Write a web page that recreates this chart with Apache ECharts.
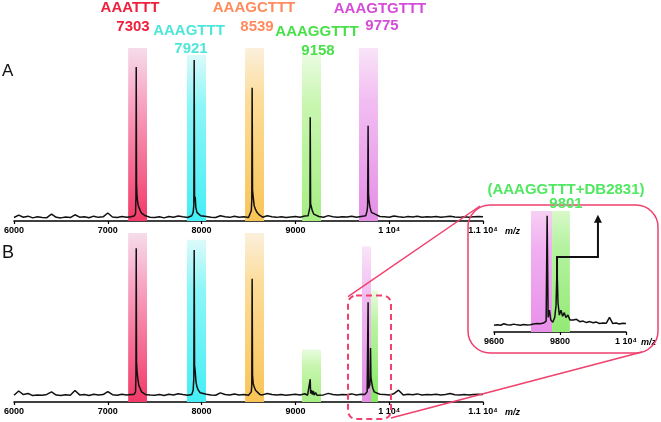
<!DOCTYPE html>
<html><head><meta charset="utf-8">
<script src="https://cdn.jsdelivr.net/npm/echarts@6/dist/echarts.min.js"></script>
<style>html,body{margin:0;padding:0;background:#fff}#c{width:661px;height:422px}</style>
</head><body><div id="c"></div>
<script>
// ---------- data ----------
const noiseStart = 6000, noiseStep = 50;
const noiseA = [2.0,3.4,2.2,2.8,1.8,2.4,2.0,1.9,4.0,2.1,
 1.8,2.3,2.0,3.6,2.2,2.5,1.9,2.8,2.1,2.4,
 4.6,2.3,2.0,2.6,2.2,2.5,2.8,2.4,3.0,2.2,
 2.0,2.4,1.8,2.6,2.2,2.9,2.4,2.0,3.2,2.5,
 2.3,2.6,2.2,2.0,3.0,2.4,2.1,2.7,2.2,2.4,
 2.0,2.6,2.8,2.2,3.0,2.4,2.1,2.5,2.0,2.3,
 2.6,2.2,2.9,2.4,2.0,2.6,2.2,3.1,2.4,2.2,
 2.5,2.3,2.8,2.2,2.6,2.4,3.5,2.2,2.6,2.4,
 2.2,2.9,2.4,2.1,2.6,2.3,2.8,2.2,2.5,2.3,
 2.6,2.2,2.4,2.8,2.3,2.1,2.5,2.2,2.4,2.6,
 2.4];
const noiseB = [4.0,6.5,4.4,5.0,3.8,4.2,4.0,4.5,6.0,4.1,
 3.8,4.3,4.0,6.8,4.2,4.5,3.9,4.6,4.1,4.4,
 6.2,4.3,4.0,4.6,4.2,4.5,4.8,4.4,5.0,4.2,
 4.0,4.4,3.8,4.6,4.2,4.9,4.4,4.0,5.6,4.5,
 4.3,4.6,4.2,4.0,5.4,4.4,4.1,4.7,4.2,4.4,
 4.0,4.6,4.8,4.2,5.0,4.4,4.1,4.5,4.0,4.3,
 4.6,4.2,4.9,4.4,4.0,4.6,4.2,5.1,4.4,4.2,
 4.5,4.3,4.8,4.2,4.6,4.4,5.2,4.2,4.6,4.4,
 4.2,4.9,7.0,4.1,4.6,4.3,4.8,4.2,4.5,4.3,
 4.6,4.2,4.4,5.0,4.3,4.1,4.5,4.2,4.4,4.6,
 4.4];
const insetStart = 9600, insetStep = 10;
const noiseInset = [5.5,6.0,5.6,6.8,6.0,5.8,6.5,5.9,5.6,6.2,
 5.8,6.0,6.6,7.0,6.8,7.4,7.6,7.8,8.0,8.2,
 9.0,9.5,10,10,10,10.5,8.5,9.0,7.8,8.6,
 7.6,8.2,7.0,7.4,7.2,12,7.0,7.4,6.6,7.2,
 7.0];

const peakA7303 = [[7285,3],[7296,4.5],[7300,14],[7303,89],[7306,22],[7310,16],[7316,12],[7324,9],[7334,8],[7346,6],[7360,4.5],[7380,3.5],[7400,3]];
const peakA7921 = [[7895,3],[7910,5],[7917,9],[7921,93],[7925,11],[7932,14],[7938,8],[7950,5],[7970,4],[7990,3]];
const peakA8539 = [[8515,3],[8530,6],[8535,12],[8539,77],[8543,18],[8550,14],[8560,9],[8572,7],[8590,5],[8615,3.5]];
const peakA9158 = [[9135,3],[9150,4],[9155,8],[9158,60],[9162,10],[9170,10],[9180,6],[9195,4],[9215,3]];
const peakA9775 = [[9750,3],[9765,6],[9770,9],[9775,55],[9779,16],[9786,11],[9795,8],[9810,5],[9830,6],[9850,4]];

const peakB7303 = [[7280,4.5],[7296,6],[7300,16],[7303,91],[7306,24],[7312,18],[7320,14],[7330,10],[7345,8],[7360,6],[7380,5],[7400,4.5]];
const peakB7921 = [[7895,4.5],[7910,7],[7917,14],[7921,90],[7925,22],[7932,18],[7940,12],[7950,9],[7965,7],[7985,5.5],[8005,4.5]];
const peakB8539 = [[8515,4.5],[8530,6],[8535,10],[8539,73],[8543,16],[8550,11],[8560,9],[8575,7],[8595,6],[8620,4.5]];
const peakB9158 = [[9130,4],[9145,5],[9150,4.5],[9158,13.5],[9162,5],[9172,7],[9180,4.5],[9192,6.5],[9200,4],[9215,5.5],[9230,4]];
const peakB9775 = [[9740,4.5],[9755,5.5],[9765,6],[9770,7],[9775,59],[9779,8],[9785,9]];
const peakB9801 = [[9792,10],[9797,14],[9801,32],[9805,15],[9810,13],[9818,10],[9826,8],[9840,6],[9855,5]];

const peakInset = [[9755,8],[9758,9],[9761,96],[9764,12],[9768,18],[9772,10],[9778,8],[9784,12],[9788,22],[9791,53],[9794,24],[9798,14],[9803,18],[9808,13],[9813,16],[9818,12],[9824,14],[9830,10]];

// bands: [from, to, top]
const bandsA = [[7217,7418,100],[7844,8047,96],[8463,8665,100],[9070,9273,96],[9678,9880,100]];
const bandsB = [[7217,7418,100],[7844,8047,96],[8463,8665,100],[9070,9273,31],[9710,9806,92],[9806,9880,66]];
const bandsInset = [[9712,9776,100],[9776,9830,100]];

const labelsTop = ['AAATTT','AAAGTTT','AAAGCTTT','AAAGGTTT','AAAGTGTTT'];
const labelsMass = ['7303','7921','8539','9158','9775'];
const insetLabel = ['(AAAGGTTT+DB2831)','9801'];
const xTickLabels = {6000:'6000',7000:'7000',8000:'8000',9000:'9000',10000:'1 10\u2074',11000:'1.1 10\u2074',9600:'9600',9800:'9800'};

// ---------- styles ----------
function grad(top, mid, bottom){
  return {type:'linear',x:0,y:0,x2:0,y2:1,colorStops:[{offset:0,color:top},{offset:0.3,color:mid},{offset:1,color:bottom}]};
}
const cRed = grad('#f6dcea','#f8a6c4','#f23a68');
const cCyan = grad('#dcfafa','#8ef6f8','#44eef6');
const cYel = grad('#fbf0dc','#fcdc98','#f9c456');
const cGrn = grad('#eafbe0','#c8f6b0','#a6ee84');
const cMag = grad('#f9e4f8','#f2bef2','#e48ee6');
const bandColA = [cRed,cCyan,cYel,cGrn,cMag];
const bandColB = [cRed,cCyan,cYel,cGrn,cMag,grad('#eafbe0','#b8f4a0','#86e862')];
const bandColInset = [grad('#f6d0f4','#f0b0f0','#e890ea'),grad('#d8f8c8','#b4f2a0','#94ea74')];
const labColors = ['#f0203c','#4ee6d8','#ff8a5c','#48e048','#d54cd8'];

function build(noise, start, step, peaks){
  let pts = noise.map((v,i)=>[start+i*step, v]);
  peaks.forEach(p=>{
    const lo=p[0][0], hi=p[p.length-1][0];
    pts = pts.filter(q=>q[0]<lo||q[0]>hi);
  });
  peaks.forEach(p=>{pts = pts.concat(p);});
  return pts.sort((a,b)=>a[0]-b[0]);
}
function areas(bands, cols){
  return bands.map((b,i)=>[{xAxis:b[0],yAxis:0,itemStyle:{color:cols[i]}},{xAxis:b[1],yAxis:b[2]}]);
}
const font = 'Liberation Sans, Arial, sans-serif';
function xAx(gi, min, max, interval, nameGap){
  return {type:'value',gridIndex:gi,min:min,max:max,interval:interval,
    axisLine:{show:true,lineStyle:{color:'#000',width:1.5}},
    axisTick:{show:true,length:3,lineStyle:{color:'#000',width:1.2}},
    splitLine:{show:false},
    axisLabel:{color:'#000',fontSize:9,fontWeight:'bold',fontFamily:font,margin:5,formatter:v=>xTickLabels[v]||String(v)},
    name:'m/z',nameLocation:'end',nameGap:nameGap,
    nameTextStyle:{color:'#000',fontSize:9,fontWeight:'bold',fontStyle:'italic',fontFamily:font,verticalAlign:'top',padding:[6,0,0,0]}};
}
function yAx(gi){return {type:'value',gridIndex:gi,min:0,max:100,show:false};}

const chart = echarts.init(document.getElementById('c'));
const lineStyle = {color:'#111',width:1.5};
chart.setOption({
  animation:false,
  grid:[{left:14,top:48,width:469,height:173},{left:14,top:233,width:469,height:169},{left:494,top:211,width:132,height:121}],
  xAxis:[xAx(0,6000,11000,1000,22),xAx(1,6000,11000,1000,22),xAx(2,9600,10000,200,8)],
  yAxis:[yAx(0),yAx(1),yAx(2)],
  visualMap:[
    {type:'piecewise',show:false,dimension:0,seriesIndex:1,pieces:[{lt:9789,color:'#111'},{gte:9789,lte:9850,color:'#2f9a4c'},{gt:9850,color:'#111'}]},
    {type:'piecewise',show:false,dimension:0,seriesIndex:2,pieces:[{lt:9776,color:'#111'},{gte:9776,lte:9832,color:'#2f9a4c'},{gt:9832,color:'#111'}]}
  ],
  series:[
    {type:'line',xAxisIndex:0,yAxisIndex:0,symbol:'none',lineStyle:lineStyle,z:3,
      data:build(noiseA,noiseStart,noiseStep,[peakA7303,peakA7921,peakA8539,peakA9158,peakA9775]),
      markArea:{silent:true,z:1,data:areas(bandsA,bandColA)}},
    {type:'line',xAxisIndex:1,yAxisIndex:1,symbol:'none',lineStyle:lineStyle,z:3,
      data:build(noiseB,noiseStart,noiseStep,[peakB7303,peakB7921,peakB8539,peakB9158,peakB9775,peakB9801]),
      markArea:{silent:true,z:1,data:areas(bandsB,bandColB)}},
    {type:'line',xAxisIndex:2,yAxisIndex:2,symbol:'none',lineStyle:lineStyle,z:3,
      data:build(noiseInset,insetStart,insetStep,[peakInset]),
      markArea:{silent:true,z:1,data:areas(bandsInset,bandColInset)}}
  ]
});

// ---------- annotations ----------
const px = (gi,pt)=>chart.convertToPixel({gridIndex:gi},pt);
const dTL = px(1,[9561,63]), dBR = px(1,[10019,-10]);
const iTL = [px(2,[9600,0])[0]-26, px(2,[9600,100])[1]-6];
const iBR = [px(2,[10000,0])[0]+32, px(2,[10000,0])[1]+21];
const aStart = px(2,[9791,44]), aMid = px(2,[9791,62]), aEnd = px(2,[9915,96]);
const pink = '#f0406e';
const txt = (x,y,s,color,size,weight)=>({type:'text',x:x,y:y,z:10,style:{text:s,fill:color,font:(weight||'bold')+' '+size+'px '+font,textAlign:'center',textVerticalAlign:'middle'}});
const labPos = [[130,8,133,26.5],[189,30.5,191,49],[254,8,257,26.5],[317,32,318,51],[380,8.5,382,26]];
const g = [];
labelsTop.forEach((s,i)=>{
  g.push(txt(labPos[i][0],labPos[i][1],s,labColors[i],15));
  g.push(txt(labPos[i][2],labPos[i][3],labelsMass[i],labColors[i],15));
});
g.push({type:'text',x:2,y:71,style:{text:'A',fill:'#111',font:'17px '+font,textVerticalAlign:'middle'}});
g.push({type:'text',x:2,y:253,style:{text:'B',fill:'#111',font:'18px '+font,textVerticalAlign:'middle'}});
g.push({type:'rect',z:5,shape:{x:dTL[0],y:dTL[1],width:dBR[0]-dTL[0],height:dBR[1]-dTL[1],r:8},style:{fill:'none',stroke:pink,lineWidth:2,lineDash:[6,4]}});
g.push({type:'rect',z:5,shape:{x:iTL[0],y:iTL[1],width:iBR[0]-iTL[0],height:iBR[1]-iTL[1],r:22},style:{fill:'none',stroke:pink,lineWidth:1.5}});
g.push({type:'line',z:5,shape:{x1:dTL[0],y1:dTL[1]+1,x2:iTL[0]+12,y2:iTL[1]+1},style:{stroke:pink,lineWidth:1.5}});
g.push({type:'line',z:5,shape:{x1:dBR[0],y1:dBR[1]-1,x2:iBR[0]-16,y2:iBR[1]-1},style:{stroke:pink,lineWidth:1.5}});
g.push({type:'polyline',z:6,shape:{points:[aStart,aMid,[aEnd[0],aMid[1]],[aEnd[0],aEnd[1]+6]]},style:{fill:'none',stroke:'#111',lineWidth:2}});
g.push({type:'polygon',z:6,shape:{points:[[aEnd[0]-4,aEnd[1]+7],[aEnd[0]+4,aEnd[1]+7],[aEnd[0],aEnd[1]-1]]},style:{fill:'#111'}});
g.push(txt(566,190,insetLabel[0],'#50e860',15));
g.push(txt(566,204,insetLabel[1],'#50e860',15));
chart.setOption({graphic:g});
</script></body></html>
